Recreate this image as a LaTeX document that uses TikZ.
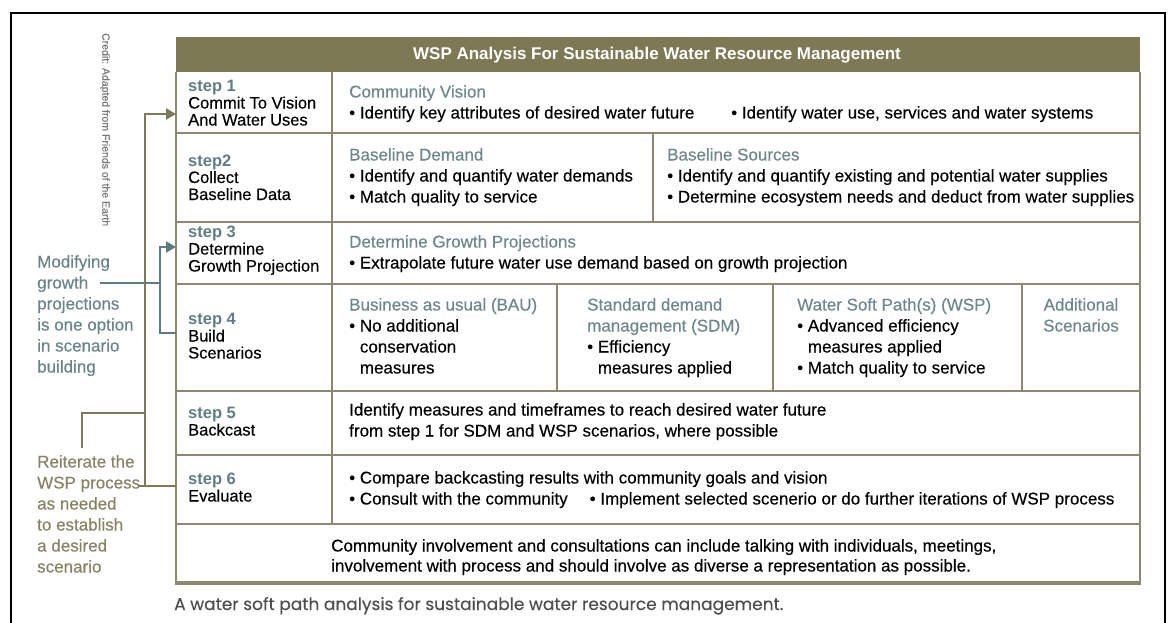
\documentclass[tikz,border=0pt]{standalone}
\usepackage{fontspec}
\setmainfont{Liberation Sans}[UprightFeatures={FakeBold=0.3}]
\newfontfamily\capfont{Poppins}[FakeBold=0.2]
\usetikzlibrary{arrows.meta}
\definecolor{hdrfill}{RGB}{124,121,84}
\definecolor{gridcol}{RGB}{140,138,110}
\definecolor{stepteal}{RGB}{95,127,132}
\definecolor{headteal}{RGB}{108,136,141}
\definecolor{noteteal}{RGB}{104,133,139}
\definecolor{noteolive}{RGB}{134,131,98}
\definecolor{connolive}{RGB}{125,122,88}
\definecolor{connteal}{RGB}{93,124,130}
\definecolor{capgray}{RGB}{78,78,78}
\definecolor{creditgray}{RGB}{120,120,120}
\newcommand\wbul{\textbullet\ }
\newcommand\wind{\phantom{\textbullet\ }}
\newcommand\stlab[1]{{\color{stepteal}\bfseries #1}}
\newcommand\sechead[1]{{\color{headteal}#1}}

\begin{document}
\begin{tikzpicture}[x=1pt,y=1pt]
\tikzstyle{every node}+=[inner sep=0pt]
\tikzstyle{stepcell}=[anchor=base west, align=left, font=\fontsize{16.5}{17}\selectfont]
\tikzstyle{bodycell}=[anchor=base west, align=left, font=\fontsize{17}{21}\selectfont]
\tikzstyle{gridline}=[gridcol, line width=2.2pt]
\tikzstyle{oconn}=[connolive, line width=2.6pt]
\tikzstyle{tconn}=[connteal, line width=2.6pt]
\useasboundingbox (0,0) rectangle (1169,-623);
\fill [white] (0,0) rectangle (1169,-623);
\draw [black, line width=2.5pt] (11,-13) rectangle (1165,-660);

\fill [hdrfill] (176,-37) rectangle (1140,-72);
\node [anchor=base, text=white, font=\fontsize{17}{20}\selectfont\bfseries] (title) at (657,-60) {WSP Analysis For Sustainable Water Resource Management};

\draw [gridline] (176,-72) -- (176,-583);
\draw [gridline] (1140,-72) -- (1140,-583);
\foreach \y in {133,222,284,391,455,524}
  \draw [gridline] (176,-\y) -- (1140,-\y);
\draw [gridline, line width=4pt] (174.9,-583) -- (1141.1,-583);
\draw [gridline] (332,-72) -- (332,-524);
\draw [gridline] (653,-133) -- (653,-222);
\foreach \x in {557,773,1022}
  \draw [gridline] (\x,-284) -- (\x,-391);

% multi-line cells sit on the baseline of their last line
\node [stepcell] (st1) at (188,-125.5) {\stlab{step 1}\\Commit To Vision\\And Water Uses};
\node [stepcell] (st2) at (188,-200) {\stlab{step2}\\Collect\\Baseline Data};
\node [stepcell] (st3) at (188,-271.5) {\stlab{step 3}\\Determine\\Growth Projection};
\node [stepcell] (st4) at (188,-358.5) {\stlab{step 4}\\Build\\Scenarios};
\node [stepcell] (st5) at (188,-435.5) {\stlab{step 5}\\Backcast};
\node [stepcell] (st6) at (188,-501.5) {\stlab{step 6}\\Evaluate};

\node [bodycell] (vision) at (349,-118.5) {\sechead{Community Vision}\\\wbul Identify key attributes of desired water future};
\node [bodycell] (uses) at (731,-118.5) {\wbul Identify water use, services and water systems};
\node [bodycell] (demand) at (349,-202.5) {\sechead{Baseline Demand}\\\wbul Identify and quantify water demands\\\wbul Match quality to service};
\node [bodycell] (sources) at (667,-202.5) {\sechead{Baseline Sources}\\\wbul Identify and quantify existing and potential water supplies\\\wbul Determine ecosystem needs and deduct from water supplies};
\node [bodycell] (growth) at (349,-268.5) {\sechead{Determine Growth Projections}\\\wbul Extrapolate future water use demand based on growth projection};
\node [bodycell] (bau) at (349,-373.5) {\sechead{Business as usual (BAU)}\\\wbul No additional\\\wind conservation\\\wind measures};
\node [bodycell] (sdm) at (587,-373.5) {\sechead{Standard demand}\\\sechead{management (SDM)}\\\wbul Efficiency\\\wind measures applied};
\node [bodycell] (wsp) at (797,-373.5) {\sechead{Water Soft Path(s) (WSP)}\\\wbul Advanced efficiency\\\wind measures applied\\\wbul Match quality to service};
\node [bodycell, anchor=base, align=center, text=headteal] (extra) at (1081,-331.5) {Additional\\Scenarios};
\node [bodycell] (backcast) at (349,-436.5) {Identify measures and timeframes to reach desired water future\\from step 1 for SDM and WSP scenarios, where possible};
\node [bodycell] (evaluate) at (349,-504.5) {\wbul Compare backcasting results with community goals and vision\\\wbul Consult with the community\hspace{22pt}\wbul Implement selected scenerio or do further iterations of WSP process};
\node [bodycell, font=\fontsize{17}{20}\selectfont] (involve) at (331,-571.5) {Community involvement and consultations can include talking with individuals, meetings,\\involvement with process and should involve as diverse a representation as possible.};

\node [rotate=-90, anchor=west, text=creditgray, font=\fontsize{10.5}{12}\selectfont] (credit) at (105,-33) {Credit: Adapted from Friends of the Earth};
\node [bodycell, text=noteteal] (modnote) at (37,-372.5) {Modifying\\growth\\projections\\is one option\\in scenario\\building};
\node [bodycell, text=noteolive] (reitnote) at (37,-572.5) {Reiterate the\\WSP process\\as needed\\to establish\\a desired\\scenario};

\coordinate (in1) at (176,-114);
\coordinate (in3) at (176,-247);
\coordinate (in4) at (176,-333);
\coordinate (in6) at (176,-486);
\coordinate (oTop) at (145,-114);
\coordinate (oBot) at (145,-486);
\coordinate (oTail) at (138,-486);
\coordinate (oMid) at (145,-413);
\coordinate (oHook) at (82,-413);
\coordinate (oEnd) at (82,-448);
\coordinate (tTop) at (160,-247);
\coordinate (tBot) at (160,-333);
\coordinate (tMid) at (160,-283);
\coordinate (tTail) at (100,-283);

\draw [tconn] (tTail) -- (tMid);
\draw [tconn, -{Triangle[length=10pt,width=11pt]}] (in4) -- (tBot) -- (tTop) -- (in3);
\draw [oconn] (oTail) -- (in6);
\draw [oconn] (oMid) -- (oHook) -- (oEnd);
\draw [oconn, -{Triangle[length=10pt,width=11pt]}] (oBot) -- (oTop) -- (in1);

\node [anchor=base west, text=capgray, font=\capfont\fontsize{17}{20}\selectfont] (caption) at (174,-610) {A water soft path analysis for sustainable water resource management.};
\end{tikzpicture}
\end{document}
